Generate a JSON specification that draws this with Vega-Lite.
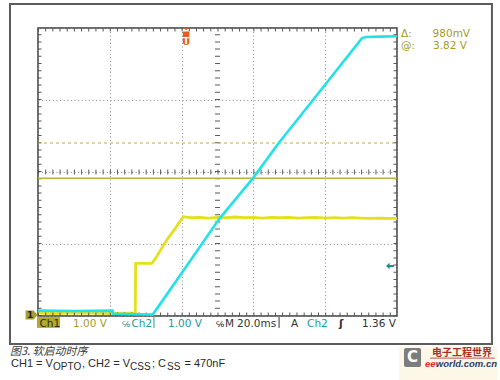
{
  "$schema": "https://vega.github.io/schema/vega-lite/v6.json",
  "width": 359,
  "height": 288,
  "autosize": "none",
  "padding": {"left": 38, "top": 28, "right": 103, "bottom": 64},
  "background": "#ffffff",
  "config": {
    "view": {"stroke": "#3c3c3c", "strokeWidth": 1.5},
    "axis": {"grid": true, "gridDash": [1, 2.6], "gridColor": "#8a8a8a", "gridWidth": 1, "gridOpacity": 1, "ticks": false, "labels": false, "domain": false, "titleOpacity": 0, "titleFontSize": 1}
  },
  "data": {"values": [{"one": 1}]},
  "datasets": {
    "traces": [
      {"t": 0, "v": 0.08, "ch": "CH1"}, {"t": 10, "v": 0.07, "ch": "CH1"}, {"t": 20, "v": 0.09, "ch": "CH1"},
      {"t": 30, "v": 0.08, "ch": "CH1"}, {"t": 40, "v": 0.07, "ch": "CH1"}, {"t": 50, "v": 0.08, "ch": "CH1"},
      {"t": 54.2, "v": 0.08, "ch": "CH1"}, {"t": 54.4, "v": 1.46, "ch": "CH1"}, {"t": 58, "v": 1.47, "ch": "CH1"},
      {"t": 63.4, "v": 1.46, "ch": "CH1"}, {"t": 66, "v": 1.64, "ch": "CH1"}, {"t": 70, "v": 1.98, "ch": "CH1"},
      {"t": 73, "v": 2.2, "ch": "CH1"}, {"t": 76, "v": 2.4, "ch": "CH1"}, {"t": 78, "v": 2.55, "ch": "CH1"},
      {"t": 81, "v": 2.76, "ch": "CH1"}, {"t": 85, "v": 2.73, "ch": "CH1"}, {"t": 90, "v": 2.74, "ch": "CH1"},
      {"t": 95, "v": 2.72, "ch": "CH1"}, {"t": 100, "v": 2.74, "ch": "CH1"}, {"t": 105, "v": 2.73, "ch": "CH1"},
      {"t": 110, "v": 2.75, "ch": "CH1"}, {"t": 115, "v": 2.73, "ch": "CH1"}, {"t": 120, "v": 2.74, "ch": "CH1"},
      {"t": 125, "v": 2.72, "ch": "CH1"}, {"t": 130, "v": 2.74, "ch": "CH1"}, {"t": 135, "v": 2.73, "ch": "CH1"},
      {"t": 140, "v": 2.74, "ch": "CH1"}, {"t": 145, "v": 2.72, "ch": "CH1"}, {"t": 150, "v": 2.73, "ch": "CH1"},
      {"t": 155, "v": 2.74, "ch": "CH1"}, {"t": 160, "v": 2.72, "ch": "CH1"}, {"t": 165, "v": 2.73, "ch": "CH1"},
      {"t": 170, "v": 2.72, "ch": "CH1"}, {"t": 175, "v": 2.73, "ch": "CH1"}, {"t": 180, "v": 2.72, "ch": "CH1"},
      {"t": 185, "v": 2.71, "ch": "CH1"}, {"t": 190, "v": 2.72, "ch": "CH1"}, {"t": 195, "v": 2.71, "ch": "CH1"},
      {"t": 200, "v": 2.71, "ch": "CH1"},
      {"t": 0, "v": 0.15, "ch": "CH2"}, {"t": 20, "v": 0.14, "ch": "CH2"}, {"t": 41.5, "v": 0.15, "ch": "CH2"},
      {"t": 42, "v": 0.06, "ch": "CH2"}, {"t": 55, "v": 0.05, "ch": "CH2"}, {"t": 63.9, "v": 0.04, "ch": "CH2"},
      {"t": 80, "v": 1.19, "ch": "CH2"}, {"t": 101, "v": 2.7, "ch": "CH2"}, {"t": 119.8, "v": 3.83, "ch": "CH2"},
      {"t": 133.9, "v": 4.79, "ch": "CH2"}, {"t": 153.2, "v": 6.0, "ch": "CH2"}, {"t": 180.5, "v": 7.72, "ch": "CH2"},
      {"t": 183, "v": 7.75, "ch": "CH2"}, {"t": 190, "v": 7.76, "ch": "CH2"}, {"t": 200, "v": 7.77, "ch": "CH2"}
    ]
  },
  "layer": [
    {
      "data": {"name": "traces"},
      "transform": [{"filter": "datum.ch === 'CH1'"}],
      "mark": {"type": "line", "strokeWidth": 2.8, "interpolate": "linear"},
      "encoding": {
        "x": {"field": "t", "type": "quantitative", "scale": {"domain": [0, 200], "nice": false, "zero": false},
              "axis": {"values": [0, 20, 40, 60, 80, 100, 120, 140, 160, 180, 200], "title": null}},
        "y": {"field": "v", "type": "quantitative", "scale": {"domain": [0, 8], "nice": false, "zero": false},
              "axis": {"values": [0, 1, 2, 3, 4, 5, 6, 7, 8], "title": null}},
        "color": {"field": "ch", "type": "nominal", "scale": {"domain": ["CH1", "CH2"], "range": ["#e4e01e", "#22e2e8"]}, "legend": null}
      }
    },
    {
      "mark": {"type": "rule", "stroke": "#5a5a5a", "strokeWidth": 5, "strokeDash": [1, 6.18]},
      "encoding": {"x": {"datum": 0}, "x2": {"datum": 200}, "y": {"datum": 4}}
    },
    {
      "mark": {"type": "rule", "stroke": "#5a5a5a", "strokeWidth": 5, "strokeDash": [1, 6.2]},
      "encoding": {"y": {"datum": 0}, "y2": {"datum": 8}, "x": {"datum": 100}}
    },
    {
      "mark": {"type": "rule", "stroke": "#555555", "strokeWidth": 7, "strokeDash": [1, 6.18], "clip": true},
      "encoding": {"x": {"datum": 0}, "x2": {"datum": 200}, "y": {"datum": 8}}
    },
    {
      "mark": {"type": "rule", "stroke": "#555555", "strokeWidth": 7, "strokeDash": [1, 6.18], "clip": true},
      "encoding": {"x": {"datum": 0}, "x2": {"datum": 200}, "y": {"datum": 0}}
    },
    {
      "mark": {"type": "rule", "stroke": "#555555", "strokeWidth": 7, "strokeDash": [1, 6.2], "clip": true},
      "encoding": {"y": {"datum": 0}, "y2": {"datum": 8}, "x": {"datum": 0}}
    },
    {
      "mark": {"type": "rule", "stroke": "#555555", "strokeWidth": 7, "strokeDash": [1, 6.2], "clip": true},
      "encoding": {"y": {"datum": 0}, "y2": {"datum": 8}, "x": {"datum": 200}}
    },
    {
      "mark": {"type": "rule", "stroke": "#b8b23e", "strokeWidth": 1.5},
      "encoding": {"x": {"datum": 0}, "x2": {"datum": 200}, "y": {"datum": 3.825}}
    },
    {
      "mark": {"type": "rule", "stroke": "#b8b23e", "strokeWidth": 1, "strokeDash": [3, 3]},
      "encoding": {"x": {"datum": 0}, "x2": {"datum": 200}, "y": {"datum": 4.805}}
    },
    {
      "data": {"name": "traces"},
      "transform": [{"filter": "datum.ch === 'CH2'"}],
      "mark": {"type": "line", "strokeWidth": 2.6, "interpolate": "linear"},
      "encoding": {
        "x": {"field": "t", "type": "quantitative"},
        "y": {"field": "v", "type": "quantitative"},
        "color": {"field": "ch", "type": "nominal", "legend": null}
      }
    },
    {
      "mark": {"type": "rect", "fillOpacity": 0, "stroke": "#5c5c5c", "strokeWidth": 2},
      "encoding": {"x": {"datum": -15.6}, "x2": {"datum": 252.9}, "y": {"datum": 8.667}, "y2": {"datum": -0.778}}
    },
    {
      "mark": {"type": "point", "shape": "M-0.3,-1 L0.3,-1 L0,-0.7 Z M-0.38,-0.6 L0.38,-0.6 L0.38,0.65 Q0.38,1 0,1 Q-0.38,1 -0.38,0.65 Z", "size": 289, "filled": true, "fill": "#e2601e", "opacity": 1, "strokeWidth": 0},
      "encoding": {"x": {"datum": 82.5}, "y": {"datum": 7.764}}
    },
    {
      "mark": {"type": "text", "text": "T", "font": "DejaVu Sans", "fontSize": 9, "fontWeight": "bold", "fill": "#ffffff", "align": "center", "baseline": "middle"},
      "encoding": {"x": {"datum": 82.5}, "y": {"datum": 7.63}}
    },
    {
      "mark": {"type": "point", "shape": "M-1,-0.75 L0.35,-0.75 L1,0 L0.35,0.75 L-1,0.75 Z", "size": 144, "filled": true, "fill": "#a89e2a", "opacity": 1, "strokeWidth": 0},
      "encoding": {"x": {"datum": -3.6}, "y": {"datum": 0.03}}
    },
    {
      "mark": {"type": "text", "text": "1", "font": "DejaVu Sans", "fontSize": 9, "fontWeight": "bold", "fill": "#222222", "align": "center", "baseline": "middle"},
      "encoding": {"x": {"datum": -4.4}, "y": {"datum": 0.03}}
    },
    {
      "mark": {"type": "point", "shape": "M-1,0 L-0.1,-0.8 L-0.1,-0.25 L1,-0.25 L1,0.25 L-0.1,0.25 L-0.1,0.8 Z", "size": 64, "filled": true, "fill": "#1a8f8f", "opacity": 1, "strokeWidth": 0},
      "encoding": {"x": {"datum": 196.1}, "y": {"datum": 1.39}}
    },
    {
      "mark": {"type": "text", "text": "Δ:", "font": "DejaVu Sans", "fontSize": 10.5, "fill": "#a49c2a", "align": "left", "baseline": "alphabetic"},
      "encoding": {"x": {"datum": 202.2}, "y": {"datum": 7.75}}
    },
    {
      "mark": {"type": "text", "text": "980mV", "font": "DejaVu Sans", "fontSize": 10.5, "fill": "#a49c2a", "align": "right", "baseline": "alphabetic"},
      "encoding": {"x": {"datum": 240.7}, "y": {"datum": 7.75}}
    },
    {
      "mark": {"type": "text", "text": "@:", "font": "DejaVu Sans", "fontSize": 10.5, "fill": "#a49c2a", "align": "left", "baseline": "alphabetic"},
      "encoding": {"x": {"datum": 202.2}, "y": {"datum": 7.43}}
    },
    {
      "mark": {"type": "text", "text": "3.82 V", "font": "DejaVu Sans", "fontSize": 10.5, "fill": "#a49c2a", "align": "right", "baseline": "alphabetic"},
      "encoding": {"x": {"datum": 239.0}, "y": {"datum": 7.43}}
    },
    {
      "mark": {"type": "rect", "fill": "#b2aa30"},
      "encoding": {"x": {"datum": -0.56}, "x2": {"datum": 12.26}, "y": {"datum": -0.03}, "y2": {"datum": -0.33}}
    },
    {
      "mark": {"type": "text", "text": "Ch1", "font": "DejaVu Sans", "fontSize": 10.5, "fill": "#2e2c10", "align": "left", "baseline": "alphabetic"},
      "encoding": {"x": {"datum": 0.84}, "y": {"datum": -0.306}}
    },
    {
      "mark": {"type": "text", "text": "1.00 V", "font": "DejaVu Sans", "fontSize": 10.5, "fill": "#a49c2a", "align": "left", "baseline": "alphabetic"},
      "encoding": {"x": {"datum": 19.5}, "y": {"datum": -0.306}}
    },
    {
      "mark": {"type": "text", "text": "℅", "font": "DejaVu Sans", "fontSize": 8, "fill": "#1f9a9a", "align": "left", "baseline": "alphabetic"},
      "encoding": {"x": {"datum": 46.8}, "y": {"datum": -0.306}}
    },
    {
      "mark": {"type": "text", "text": "Ch2", "font": "DejaVu Sans", "fontSize": 10.5, "fill": "#1f9a9a", "align": "left", "baseline": "alphabetic"},
      "encoding": {"x": {"datum": 52.1}, "y": {"datum": -0.306}}
    },
    {
      "mark": {"type": "rule", "stroke": "#1f9a9a", "strokeWidth": 1},
      "encoding": {"x": {"datum": 64.6}, "y": {"datum": -0.03}, "y2": {"datum": -0.33}}
    },
    {
      "mark": {"type": "text", "text": "1.00 V", "font": "DejaVu Sans", "fontSize": 10.5, "fill": "#1f9a9a", "align": "left", "baseline": "alphabetic"},
      "encoding": {"x": {"datum": 72.4}, "y": {"datum": -0.306}}
    },
    {
      "mark": {"type": "text", "text": "℅", "font": "DejaVu Sans", "fontSize": 8, "fill": "#333333", "align": "left", "baseline": "alphabetic"},
      "encoding": {"x": {"datum": 99.2}, "y": {"datum": -0.306}}
    },
    {
      "mark": {"type": "text", "text": "M", "font": "DejaVu Sans", "fontSize": 10.5, "fill": "#333333", "align": "left", "baseline": "alphabetic"},
      "encoding": {"x": {"datum": 104.2}, "y": {"datum": -0.306}}
    },
    {
      "mark": {"type": "text", "text": "20.0ms", "font": "DejaVu Sans", "fontSize": 10.5, "fill": "#333333", "align": "left", "baseline": "alphabetic"},
      "encoding": {"x": {"datum": 110.9}, "y": {"datum": -0.306}}
    },
    {
      "mark": {"type": "rule", "stroke": "#333333", "strokeWidth": 1},
      "encoding": {"x": {"datum": 134.3}, "y": {"datum": -0.03}, "y2": {"datum": -0.33}}
    },
    {
      "mark": {"type": "text", "text": "A", "font": "DejaVu Sans", "fontSize": 10.5, "fill": "#333333", "align": "left", "baseline": "alphabetic"},
      "encoding": {"x": {"datum": 140.9}, "y": {"datum": -0.306}}
    },
    {
      "mark": {"type": "text", "text": "Ch2", "font": "DejaVu Sans", "fontSize": 10.5, "fill": "#1f9a9a", "align": "left", "baseline": "alphabetic"},
      "encoding": {"x": {"datum": 149.9}, "y": {"datum": -0.306}}
    },
    {
      "mark": {"type": "text", "text": "ʃ", "font": "DejaVu Sans", "fontSize": 10.5, "fontWeight": "bold", "fill": "#333333", "align": "left", "baseline": "alphabetic"},
      "encoding": {"x": {"datum": 167.7}, "y": {"datum": -0.306}}
    },
    {
      "mark": {"type": "text", "text": "1.36 V", "font": "DejaVu Sans", "fontSize": 10.5, "fill": "#333333", "align": "left", "baseline": "alphabetic"},
      "encoding": {"x": {"datum": 180.5}, "y": {"datum": -0.306}}
    },
    {
      "mark": {"type": "text", "text": "图3. 软启动时序", "font": "Noto Sans CJK SC", "fontSize": 11, "fontStyle": "italic", "fill": "#3a3a3a", "align": "left", "baseline": "alphabetic"},
      "encoding": {"x": {"datum": -15.6}, "y": {"datum": -1.083}}
    },
    {
      "mark": {"type": "text", "text": "CH1 = V", "font": "Liberation Sans", "fontSize": 11, "fill": "#2a2a2a", "align": "left", "baseline": "alphabetic"},
      "encoding": {"x": {"datum": -15.04}, "y": {"datum": -1.41}}
    },
    {
      "mark": {"type": "text", "text": "OPTO", "font": "Liberation Sans", "fontSize": 10, "fill": "#2a2a2a", "align": "left", "baseline": "alphabetic"},
      "encoding": {"x": {"datum": 8.36}, "y": {"datum": -1.51}}
    },
    {
      "mark": {"type": "text", "text": ", CH2 = V", "font": "Liberation Sans", "fontSize": 11, "fill": "#2a2a2a", "align": "left", "baseline": "alphabetic"},
      "encoding": {"x": {"datum": 24.51}, "y": {"datum": -1.41}}
    },
    {
      "mark": {"type": "text", "text": "CSS", "font": "Liberation Sans", "fontSize": 10, "fill": "#2a2a2a", "align": "left", "baseline": "alphabetic"},
      "encoding": {"x": {"datum": 51.25}, "y": {"datum": -1.51}}
    },
    {
      "mark": {"type": "text", "text": "; C", "font": "Liberation Sans", "fontSize": 11, "fill": "#2a2a2a", "align": "left", "baseline": "alphabetic"},
      "encoding": {"x": {"datum": 63.51}, "y": {"datum": -1.41}}
    },
    {
      "mark": {"type": "text", "text": "SS", "font": "Liberation Sans", "fontSize": 10, "fill": "#2a2a2a", "align": "left", "baseline": "alphabetic"},
      "encoding": {"x": {"datum": 71.87}, "y": {"datum": -1.51}}
    },
    {
      "mark": {"type": "text", "text": "= 470nF", "font": "Liberation Sans", "fontSize": 11, "fill": "#2a2a2a", "align": "left", "baseline": "alphabetic"},
      "encoding": {"x": {"datum": 81.6}, "y": {"datum": -1.41}}
    },
    {
      "mark": {"type": "rect", "fill": "#fcf7e6"},
      "encoding": {"x": {"datum": 201.1}, "x2": {"datum": 255.7}, "y": {"datum": -0.85}, "y2": {"datum": -1.78}}
    },
    {
      "mark": {"type": "rect", "fill": "#7d7d7d", "cornerRadius": 2},
      "encoding": {"x": {"datum": 203.9}, "x2": {"datum": 213.4}, "y": {"datum": -0.889}, "y2": {"datum": -1.417}}
    },
    {
      "mark": {"type": "text", "text": "C", "font": "DejaVu Sans", "fontSize": 15, "fontWeight": "bold", "fill": "#ffffff", "align": "center", "baseline": "middle"},
      "encoding": {"x": {"datum": 208.6}, "y": {"datum": -1.15}}
    },
    {
      "mark": {"type": "text", "text": "电子工程世界", "font": "Noto Sans CJK SC", "fontSize": 10, "fontWeight": "bold", "fill": "#a8302c", "align": "left", "baseline": "alphabetic"},
      "encoding": {"x": {"datum": 219.5}, "y": {"datum": -1.1}}
    },
    {
      "mark": {"type": "rule", "stroke": "#a8302c", "strokeWidth": 0.8},
      "encoding": {"x": {"datum": 218.4}, "x2": {"datum": 254.5}, "y": {"datum": -1.17}}
    },
    {
      "mark": {"type": "text", "text": "ee", "font": "Liberation Sans", "fontSize": 9.5, "fontWeight": "bold", "fontStyle": "italic", "fill": "#e0262a", "align": "left", "baseline": "alphabetic"},
      "encoding": {"x": {"datum": 215.6}, "y": {"datum": -1.43}}
    },
    {
      "mark": {"type": "text", "text": "world.com.cn", "font": "Liberation Sans", "fontSize": 9.5, "fontWeight": "bold", "fontStyle": "italic", "fill": "#2c3e6a", "align": "left", "baseline": "alphabetic"},
      "encoding": {"x": {"datum": 221.6}, "y": {"datum": -1.43}}
    }
  ]
}
